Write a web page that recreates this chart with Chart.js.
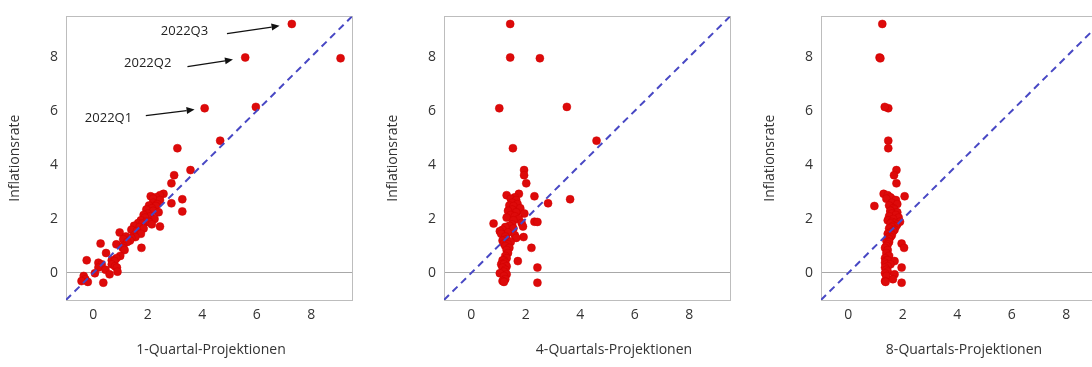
<!DOCTYPE html>
<html><head><meta charset="utf-8">
<script src="https://cdn.jsdelivr.net/npm/chart.js@4"></script>
<style>
html,body{margin:0;padding:0;background:#fff;overflow:hidden;width:1092px;height:367px;position:relative;}
.p{position:absolute;top:0;width:364px;height:367px;}
</style></head><body>
<div class="p" style="left:0px"><canvas id="c1" width="364" height="367"></canvas></div>
<div class="p" style="left:378px"><canvas id="c2" width="364" height="367"></canvas></div>
<div class="p" style="left:755px"><canvas id="c3" width="364" height="367"></canvas></div>
<script>
// Inflation rate (y) shared by all panels
const inflation = [9.22,7.98,7.95,6.10,6.15,4.90,4.62,3.81,3.62,3.32,
  2.73,2.28,2.58,2.93,2.84,2.88,2.80,2.75,2.70,2.60,
  2.55,2.50,2.48,2.40,2.35,2.30,2.25,2.20,2.15,2.10,
  2.05,2.00,1.95,1.90,1.89,1.85,1.83,1.80,1.75,1.72,
  1.70,1.65,1.60,1.55,1.50,1.45,1.40,1.35,1.33,1.30,
  1.25,1.20,1.15,1.09,1.06,1.00,0.93,0.93,0.85,0.74,
  0.63,0.55,0.47,0.47,0.44,0.38,0.32,0.32,0.25,0.20,
  0.20,0.12,0.05,-0.01,-0.05,-0.11,-0.23,-0.30,-0.36,-0.33];
// 1-quarter projections
const proj1 = [7.29,5.58,9.08,4.09,5.97,4.66,3.09,3.57,2.97,2.87,
  3.27,3.27,2.87,2.58,2.11,2.45,2.30,2.20,2.45,2.20,
  2.35,2.05,2.30,2.15,1.95,2.20,2.40,2.00,1.85,2.10,
  1.90,2.25,1.75,1.95,2.05,1.65,1.80,2.15,1.50,2.45,
  1.70,1.85,1.40,1.60,0.97,1.75,1.50,1.20,1.55,1.40,
  1.10,1.35,1.25,0.27,0.85,1.10,1.77,1.08,1.15,0.47,
  0.99,0.85,0.68,-0.24,0.78,0.19,0.31,0.68,0.80,0.87,
  0.19,0.45,0.89,0.06,0.60,-0.35,-0.29,-0.43,0.37,-0.20];
// 4-quarter projections
const proj4 = [1.43,1.43,2.52,1.03,3.51,4.60,1.53,1.94,1.94,2.02,
  3.63,1.70,2.82,1.75,2.32,1.30,1.60,1.45,1.65,1.50,
  1.70,1.40,1.55,1.80,1.50,1.35,1.65,1.95,1.45,1.60,
  1.30,1.75,1.55,2.32,2.43,1.85,0.82,1.50,1.40,1.90,
  1.25,1.55,1.15,1.05,1.35,1.10,1.60,1.25,1.92,1.65,
  1.30,1.15,1.45,1.20,1.35,1.25,2.21,1.40,1.30,1.35,
  1.25,1.30,1.20,1.15,1.71,1.25,1.10,1.20,1.30,2.43,
  1.15,1.25,1.20,1.05,1.30,1.20,1.25,1.15,2.43,1.20];
// 8-quarter projections
const proj8 = [1.25,1.15,1.18,1.47,1.34,1.47,1.47,1.77,1.68,1.77,
  1.62,1.55,1.70,1.30,2.07,1.45,1.55,1.40,1.75,1.60,
  1.80,1.50,0.96,1.65,1.70,1.55,1.80,1.60,1.75,1.50,
  1.85,1.65,1.45,1.90,1.60,1.70,1.55,1.80,1.65,1.75,
  1.60,1.50,1.70,1.65,1.55,1.45,1.60,1.50,1.55,1.45,
  1.50,1.40,1.50,1.96,1.45,1.40,2.05,1.35,1.45,1.40,
  1.50,1.35,1.40,1.45,1.70,1.35,1.40,1.55,1.45,1.96,
  1.35,1.40,1.45,1.35,1.70,1.40,1.64,1.35,1.96,1.37];

const tickValues = [0,2,4,6,8];
const axisMin = -1, axisMax = 9.5;
const diagonal = [-1, 9.5];
const yTitle = 'Inflationsrate';
const xTitles = ['1-Quartal-Projektionen','4-Quartals-Projektionen','8-Quartals-Projektionen'];
const titleShift = [2, 27, 0];
const notes = [
  {label:'2022Q1', tx:0.56, ty:5.72, ax0:1.93, ay0:5.83, ax1:3.72, ay1:6.05},
  {label:'2022Q2', tx:2.00, ty:7.75, ax0:3.46, ay0:7.64, ax1:5.13, ay1:7.90},
  {label:'2022Q3', tx:3.35, ty:8.93, ax0:4.91, ay0:8.86, ax1:6.84, ay1:9.15}
];

const FONT = "'Open Sans', 'DejaVu Sans', sans-serif";
const TXT = '#333333';

const boxPlugin = {
  id:'box',
  beforeDatasetsDraw(chart){
    const {ctx, chartArea:a} = chart;
    ctx.save(); ctx.strokeStyle='#bdbdbd'; ctx.lineWidth=1;
    ctx.strokeRect(Math.round(a.left)+0.5, Math.round(a.top)+0.5, Math.round(a.right-a.left), Math.round(a.bottom-a.top));
    ctx.restore();
  }
};
const xTitlePlugin = {
  id:'xTitle',
  afterDraw(chart, args, opts){
    const {ctx, chartArea:a} = chart;
    ctx.save(); ctx.fillStyle=TXT; ctx.font='14px '+FONT;
    ctx.textAlign='center'; ctx.textBaseline='middle';
    ctx.fillText(opts.text, (a.left+a.right)/2 + opts.shift, 350);
    ctx.restore();
  }
};
const notesPlugin = {
  id:'notes',
  afterDatasetsDraw(chart, args, opts){
    if(!opts.items) return;
    const {ctx, scales:{x, y}} = chart;
    ctx.save();
    ctx.font='13px '+FONT; ctx.fillStyle='#222'; ctx.strokeStyle='#111';
    ctx.textAlign='center'; ctx.textBaseline='middle';
    opts.items.forEach(n=>{
      ctx.fillText(n.label, x.getPixelForValue(n.tx), y.getPixelForValue(n.ty));
      const x0=x.getPixelForValue(n.ax0), y0=y.getPixelForValue(n.ay0);
      const x1=x.getPixelForValue(n.ax1), y1=y.getPixelForValue(n.ay1);
      const ang=Math.atan2(y1-y0,x1-x0), L=8, W=3.5;
      const bx=x1-L*Math.cos(ang), by=y1-L*Math.sin(ang);
      ctx.lineWidth=1.3; ctx.beginPath(); ctx.moveTo(x0,y0); ctx.lineTo(bx,by); ctx.stroke();
      ctx.beginPath(); ctx.moveTo(x1,y1);
      ctx.lineTo(bx+W*Math.sin(ang), by-W*Math.cos(ang));
      ctx.lineTo(bx-W*Math.sin(ang), by+W*Math.cos(ang));
      ctx.closePath(); ctx.fillStyle='#111'; ctx.fill();
      ctx.fillStyle='#222';
    });
    ctx.restore();
  }
};

function makeChart(id, xs, idx, withNotes){
  const pts = xs.map((v,i)=>({x:v, y:inflation[i]}));
  return new Chart(document.getElementById(id), {
    type:'scatter',
    data:{datasets:[
      {type:'line', data:diagonal.map(v=>({x:v,y:v})), borderColor:'#4848c4', borderWidth:2,
       borderDash:[7,5], pointRadius:0, fill:false, order:0},
      {data:pts, backgroundColor:'#dd0a0a', borderColor:'#d00000', borderWidth:0.5, pointRadius:4, order:1}
    ]},
    options:{
      responsive:false, animation:false, devicePixelRatio:1,
      layout:{padding:{left:0,right:12,top:16,bottom:0}},
      plugins:{legend:{display:false}, tooltip:{enabled:false},
        xTitle:{text:xTitles[idx], shift:titleShift[idx]},
        notes:{items: withNotes ? notes : null}},
      scales:{
        x:{type:'linear', min:axisMin, max:axisMax,
          afterBuildTicks:s=>{s.ticks=tickValues.map(v=>({value:v}));},
          afterFit:s=>{s.height=67;},
          grid:{display:false, drawTicks:false}, border:{display:false},
          ticks:{padding:7, color:TXT, font:{family:FONT,size:14}},
          title:{display:false}},
        y:{type:'linear', min:axisMin, max:axisMax,
          afterBuildTicks:s=>{s.ticks=tickValues.map(v=>({value:v}));},
          afterFit:s=>{s.width=66;},
          grid:{drawTicks:false, color:c=>c.tick && c.tick.value===0 ? '#a8a8a8' : 'rgba(0,0,0,0)', lineWidth:1},
          border:{display:false},
          ticks:{padding:8, color:TXT, font:{family:FONT,size:14}},
          title:{display:true, text:yTitle, color:TXT, font:{family:FONT,size:14}, padding:{top:7,bottom:0}}}
      }
    },
    plugins:[boxPlugin, xTitlePlugin, notesPlugin]
  });
}
makeChart('c1', proj1, 0, true);
makeChart('c2', proj4, 1, false);
makeChart('c3', proj8, 2, false);
</script>
</body></html>
